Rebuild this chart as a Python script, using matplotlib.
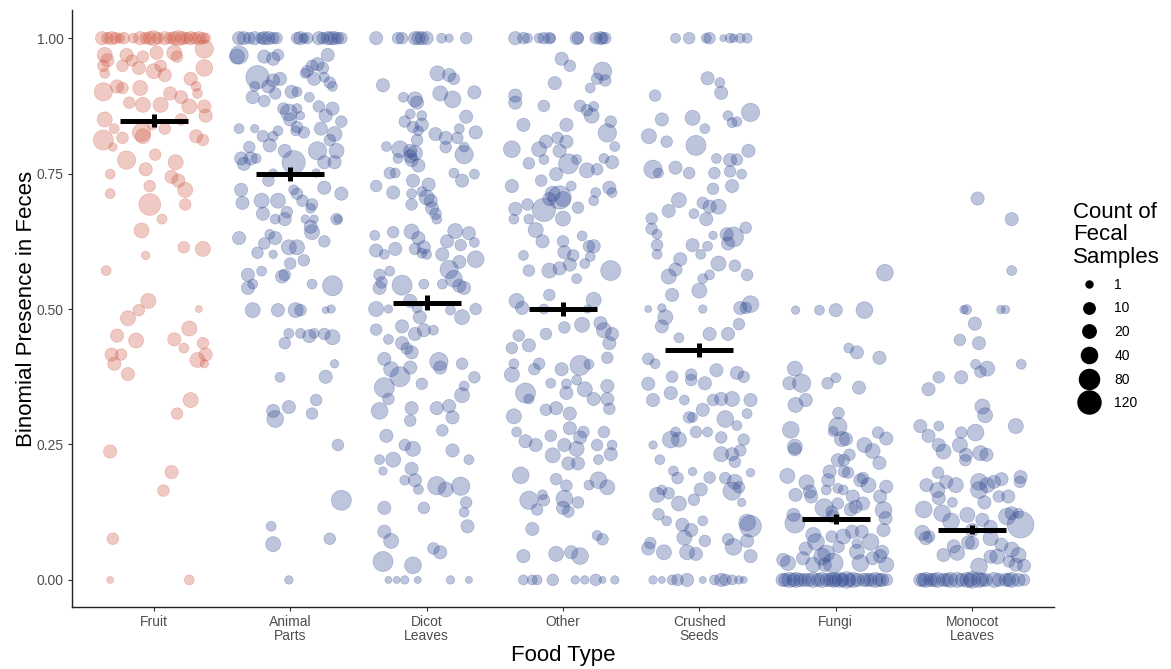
import numpy as np
import matplotlib
matplotlib.use("Agg")
import matplotlib.pyplot as plt
from matplotlib.lines import Line2D

plt.rcParams['font.family'] = ['Liberation Sans', 'DejaVu Sans']

# categories, means and standard errors
foods = ["Fruit", "Animal\nParts", "Dicot\nLeaves", "Other", "Crushed\nSeeds", "Fungi", "Monocot\nLeaves"]
means = [0.848, 0.750, 0.512, 0.500, 0.424, 0.113, 0.093]
ses = [0.012, 0.013, 0.014, 0.013, 0.013, 0.009, 0.008]

# points: (jitter offset, presence, count of fecal samples)
fruit = [
    (-0.38, 1, 19), (-0.34, 1, 11), (-0.31, 1, 19), (-0.28, 1, 11), (-0.25, 1, 5), (-0.22, 1, 11),
    (-0.15, 1, 5), (-0.10, 1, 19), (-0.06, 1, 11), (-0.03, 1, 19), (0.0, 1, 31), (0.03, 1, 11),
    (0.08, 1, 19), (0.12, 1, 11), (0.15, 1, 19), (0.18, 1, 31), (0.21, 1, 19), (0.24, 1, 11),
    (0.27, 1, 19), (0.30, 1, 11), (0.33, 1, 19), (0.36, 1, 11), (0.38, 1, 5),
    (-0.36, 0.969, 31), (-0.34, 0.959, 19), (-0.20, 0.969, 19), (-0.16, 0.959, 11), (-0.08, 0.966, 11),
    (0.02, 0.973, 19), (0.15, 0.973, 31), (0.17, 0.966, 11), (0.37, 0.98, 60), (-0.37, 0.949, 11),
    (-0.23, 0.949, 11), (-0.11, 0.945, 19), (0.0, 0.939, 31), (0.05, 0.949, 11), (0.08, 0.932, 19),
    (0.37, 0.945, 45), (-0.36, 0.935, 5), (-0.27, 0.911, 19), (-0.37, 0.901, 60), (-0.23, 0.908, 11),
    (-0.10, 0.908, 31), (-0.08, 0.877, 31), (-0.18, 0.881, 11), (0.05, 0.877, 31), (0.12, 0.898, 19),
    (0.20, 0.891, 19), (0.27, 0.925, 19), (0.31, 0.911, 5), (0.32, 0.898, 5), (0.26, 0.874, 31),
    (0.37, 0.874, 19), (0.38, 0.857, 19), (0.20, 0.85, 11), (0.08, 0.833, 11), (-0.36, 0.85, 31),
    (-0.29, 0.833, 5), (-0.37, 0.812, 79), (-0.30, 0.799, 2), (-0.23, 0.816, 11), (-0.09, 0.826, 60),
    (-0.08, 0.819, 31), (0.31, 0.819, 19), (0.36, 0.812, 11), (-0.01, 0.84, 5), (-0.20, 0.775, 60),
    (0.01, 0.785, 11), (-0.06, 0.758, 19), (0.16, 0.771, 31), (-0.32, 0.749, 5), (0.13, 0.744, 19),
    (0.18, 0.737, 19), (0.23, 0.72, 31), (-0.32, 0.713, 5), (-0.03, 0.727, 11), (-0.03, 0.693, 101),
    (0.23, 0.693, 11), (0.06, 0.666, 5), (-0.09, 0.645, 31), (0.22, 0.614, 11), (0.36, 0.611, 31),
    (-0.06, 0.599, 2), (-0.35, 0.571, 5), (-0.04, 0.515, 31), (-0.11, 0.498, 11), (-0.19, 0.483, 31),
    (-0.27, 0.451, 19), (-0.13, 0.442, 31), (0.15, 0.444, 19), (0.26, 0.464, 31), (0.22, 0.428, 5),
    (0.33, 0.50, 1), (0.36, 0.437, 11), (-0.31, 0.416, 19), (-0.24, 0.416, 11), (-0.29, 0.399, 19),
    (-0.19, 0.38, 19), (0.32, 0.406, 31), (0.38, 0.416, 19), (0.37, 0.399, 2), (0.27, 0.332, 31),
    (0.17, 0.307, 11), (-0.32, 0.237, 19), (0.13, 0.199, 19), (0.07, 0.165, 11), (-0.30, 0.076, 11),
    (-0.32, 0.0, 1), (0.26, 0.0, 5),
]

animal = [
    (-0.375, 1, 19), (-0.34, 1, 19), (-0.30, 1, 11), (-0.26, 1, 19), (-0.21, 1, 11), (-0.19, 1, 19),
    (-0.16, 1, 19), (-0.125, 1, 11), (-0.10, 1, 11), (0.05, 1, 11), (0.075, 1, 19), (0.10, 1, 5),
    (0.125, 1, 11), (0.21, 1, 19), (0.24, 1, 11), (0.275, 1, 19), (0.30, 1, 19), (0.325, 1, 19),
    (0.35, 1, 11), (0.375, 1, 11),
    (-0.375, 0.969, 60), (-0.39, 0.966, 31), (-0.19, 0.966, 19), (-0.125, 0.962, 19), (-0.09, 0.969, 11),
    (0.275, 0.969, 19), (0.125, 0.939, 11), (0.16, 0.949, 11), (0.20, 0.952, 19), (0.24, 0.945, 11),
    (-0.24, 0.928, 124), (-0.125, 0.922, 19), (-0.075, 0.925, 19), (-0.16, 0.911, 19), (-0.26, 0.911, 5),
    (-0.11, 0.898, 11), (-0.275, 0.891, 19), (-0.19, 0.884, 11), (0.01, 0.901, 19), (0.05, 0.901, 5),
    (0.14, 0.891, 5), (0.175, 0.925, 19), (0.25, 0.928, 5), (0.29, 0.918, 11), (0.31, 0.911, 5),
    (0.11, 0.935, 5), (-0.05, 0.870, 11), (-0.01, 0.863, 45), (0.05, 0.870, 5), (0.075, 0.857, 2),
    (0.0, 0.85, 19), (0.05, 0.836, 11), (0.10, 0.826, 11), (0.04, 0.829, 5), (0.21, 0.874, 11),
    (0.31, 0.870, 19), (0.26, 0.857, 19), (0.375, 0.846, 11), (0.225, 0.833, 19), (0.325, 0.823, 31),
    (0.29, 0.812, 11), (-0.375, 0.833, 5), (-0.26, 0.833, 2), (-0.20, 0.819, 11), (-0.125, 0.819, 5),
    (-0.15, 0.802, 19), (-0.09, 0.829, 5), (-0.04, 0.792, 19), (-0.30, 0.799, 11), (-0.36, 0.778, 19),
    (-0.29, 0.778, 19), (-0.34, 0.768, 19), (-0.25, 0.778, 5), (0.025, 0.771, 124), (0.20, 0.792, 60),
    (0.34, 0.792, 31), (0.25, 0.771, 19), (0.325, 0.771, 19), (-0.16, 0.737, 11), (-0.125, 0.751, 2),
    (0.19, 0.751, 2), (-0.36, 0.72, 19), (-0.35, 0.696, 19), (-0.21, 0.70, 31), (-0.09, 0.70, 31),
    (-0.20, 0.676, 19), (-0.11, 0.666, 5), (-0.04, 0.666, 19), (-0.025, 0.679, 11), (0.05, 0.713, 11),
    (0.025, 0.72, 5), (0.09, 0.70, 11), (0.16, 0.693, 11), (0.15, 0.686, 5), (0.25, 0.724, 19),
    (0.375, 0.713, 19), (0.11, 0.666, 2), (0.175, 0.666, 2), (0.15, 0.652, 19), (0.16, 0.642, 31),
    (0.34, 0.666, 11), (0.35, 0.666, 2), (-0.375, 0.631, 19), (-0.24, 0.604, 11), (-0.15, 0.638, 5),
    (-0.11, 0.631, 19), (-0.19, 0.621, 11), (-0.125, 0.601, 2), (-0.01, 0.614, 31), (0.05, 0.614, 31),
    (0.10, 0.59, 11), (0.0, 0.584, 11), (0.25, 0.625, 11), (-0.31, 0.563, 19), (-0.21, 0.57, 5),
    (-0.06, 0.56, 19), (-0.04, 0.563, 11), (-0.31, 0.539, 19), (-0.275, 0.546, 5), (0.16, 0.546, 5),
    (0.31, 0.543, 79), (-0.275, 0.498, 31), (-0.09, 0.498, 19), (0.04, 0.498, 31), (0.075, 0.498, 11),
    (0.26, 0.498, 1), (0.30, 0.50, 2), (-0.01, 0.455, 5), (0.075, 0.455, 5), (0.14, 0.45, 19),
    (0.175, 0.455, 5), (0.25, 0.454, 11), (0.31, 0.448, 31), (-0.04, 0.437, 11), (0.325, 0.399, 2),
    (0.26, 0.375, 19), (-0.075, 0.374, 5), (0.19, 0.332, 11), (0.16, 0.307, 11), (-0.01, 0.319, 19),
    (-0.125, 0.312, 19), (-0.11, 0.297, 45), (0.35, 0.249, 11), (0.375, 0.147, 79), (-0.14, 0.099, 5),
    (-0.125, 0.066, 31), (0.29, 0.076, 11), (-0.01, 0.0, 2),
]

dicot = [
    (-0.37, 1, 19), (-0.21, 1, 11), (-0.18, 1, 11), (-0.085, 1, 19), (-0.06, 1, 19), (-0.035, 1, 19),
    (0.0, 1, 19), (0.11, 1, 5), (0.165, 1, 2), (0.29, 1, 11),
    (-0.32, 0.913, 19), (0.08, 0.935, 31), (0.165, 0.932, 19), (0.20, 0.925, 11), (-0.17, 0.891, 5),
    (-0.085, 0.887, 31), (-0.07, 0.881, 19), (0.10, 0.898, 31), (0.19, 0.887, 45), (0.35, 0.90, 19),
    (-0.12, 0.86, 5), (-0.16, 0.846, 11), (-0.035, 0.857, 5), (-0.10, 0.836, 11), (-0.035, 0.84, 19),
    (-0.06, 0.829, 5), (-0.07, 0.812, 11), (0.065, 0.823, 19), (0.14, 0.816, 19), (0.24, 0.833, 5),
    (0.29, 0.855, 19), (0.36, 0.826, 19), (0.225, 0.816, 11), (-0.295, 0.80, 5), (-0.195, 0.795, 45),
    (-0.12, 0.792, 19), (-0.12, 0.782, 19), (-0.085, 0.788, 31), (0.14, 0.799, 11), (0.275, 0.799, 5),
    (0.275, 0.785, 60), (-0.21, 0.778, 5), (-0.11, 0.775, 19), (-0.06, 0.765, 19), (-0.27, 0.751, 11),
    (-0.23, 0.751, 5), (0.20, 0.751, 5), (0.26, 0.737, 19), (0.35, 0.749, 5), (-0.37, 0.727, 11),
    (-0.10, 0.737, 19), (0.015, 0.73, 19), (-0.245, 0.715, 19), (-0.11, 0.713, 5), (-0.035, 0.717, 5),
    (0.0, 0.706, 31), (-0.11, 0.693, 11), (0.03, 0.70, 19), (0.04, 0.686, 19), (0.065, 0.676, 11),
    (0.075, 0.666, 5), (-0.38, 0.636, 5), (-0.245, 0.642, 11), (-0.11, 0.643, 31), (-0.06, 0.631, 19),
    (-0.02, 0.614, 19), (-0.37, 0.608, 19), (-0.31, 0.601, 5), (-0.23, 0.611, 19), (-0.085, 0.611, 11),
    (-0.035, 0.603, 5), (0.0, 0.601, 5), (0.15, 0.625, 19), (0.21, 0.644, 31), (0.31, 0.64, 19),
    (0.25, 0.618, 11), (0.35, 0.623, 5), (0.36, 0.592, 45), (0.115, 0.601, 19), (0.165, 0.573, 60),
    (0.24, 0.587, 19), (-0.345, 0.563, 11), (-0.27, 0.57, 5), (-0.33, 0.549, 11), (-0.18, 0.544, 79),
    (-0.02, 0.546, 5), (0.115, 0.546, 5), (0.20, 0.556, 45), (0.24, 0.543, 19), (0.275, 0.539, 19),
    (-0.345, 0.539, 19), (-0.37, 0.50, 31), (-0.28, 0.50, 2), (-0.12, 0.515, 19), (-0.07, 0.502, 5),
    (-0.05, 0.485, 19), (0.175, 0.498, 5), (0.26, 0.485, 31), (0.36, 0.50, 11), (-0.37, 0.462, 11),
    (-0.28, 0.444, 5), (-0.18, 0.468, 19), (-0.18, 0.437, 19), (-0.085, 0.454, 19), (-0.02, 0.461, 19),
    (0.05, 0.461, 5), (-0.145, 0.427, 11), (-0.11, 0.42, 19), (-0.31, 0.408, 19), (-0.26, 0.389, 31),
    (-0.195, 0.375, 79), (-0.12, 0.392, 19), (0.09, 0.403, 60), (0.10, 0.392, 19), (0.26, 0.399, 11),
    (0.35, 0.374, 11), (-0.31, 0.355, 79), (-0.28, 0.334, 11), (-0.345, 0.312, 45), (-0.11, 0.317, 19),
    (-0.12, 0.294, 11), (-0.035, 0.362, 11), (0.075, 0.317, 19), (0.165, 0.321, 19), (0.19, 0.30, 19),
    (0.115, 0.276, 11), (0.275, 0.358, 5), (0.26, 0.341, 31), (-0.295, 0.266, 19), (-0.345, 0.222, 5),
    (-0.245, 0.222, 31), (-0.32, 0.201, 2), (-0.16, 0.249, 11), (-0.10, 0.242, 31), (-0.11, 0.205, 19),
    (-0.16, 0.184, 5), (-0.085, 0.184, 19), (-0.06, 0.167, 5), (0.075, 0.174, 60), (0.14, 0.167, 31),
    (0.25, 0.173, 60), (0.29, 0.143, 11), (0.275, 0.125, 5), (0.19, 0.239, 19), (0.31, 0.222, 5),
    (-0.02, 0.133, 11), (0.30, 0.099, 19), (-0.31, 0.133, 19), (-0.31, 0.089, 19), (-0.26, 0.072, 31),
    (0.05, 0.058, 11), (0.10, 0.051, 19), (-0.32, 0.034, 79), (-0.10, 0.027, 45),
    (-0.28, 0.0, 1), (-0.22, 0.0, 1), (-0.16, 0.0, 2), (-0.065, 0.0, 1), (0.175, 0.0, 2), (0.31, 0.0, 1),
]

other = [
    (-0.35, 1, 19), (-0.29, 1, 11), (-0.26, 1, 5), (-0.175, 1, 5), (-0.14, 1, 11), (-0.10, 1, 11),
    (-0.09, 1, 5), (0.10, 1, 19), (0.11, 1, 11), (0.24, 1, 11), (0.275, 1, 19), (0.29, 1, 11), (0.31, 1, 11),
    (-0.01, 0.962, 19), (0.05, 0.949, 11), (-0.06, 0.917, 19), (0.29, 0.939, 60), (0.25, 0.925, 11),
    (0.31, 0.922, 11), (0.20, 0.908, 5), (-0.35, 0.894, 19), (-0.35, 0.881, 19), (-0.14, 0.875, 11),
    (0.125, 0.875, 11), (0.175, 0.867, 11), (0.21, 0.857, 31), (0.225, 0.874, 5), (0.35, 0.846, 11),
    (0.325, 0.825, 60), (0.38, 0.80, 5), (-0.29, 0.84, 19), (0.025, 0.84, 19), (-0.375, 0.795, 45),
    (-0.175, 0.795, 31), (-0.125, 0.809, 19), (-0.04, 0.816, 11), (0.025, 0.809, 19), (-0.025, 0.792, 19),
    (-0.25, 0.769, 11), (-0.14, 0.776, 5), (0.04, 0.768, 79), (0.10, 0.776, 5), (0.175, 0.756, 31),
    (0.25, 0.758, 11), (0.30, 0.778, 5), (0.36, 0.771, 19), (-0.375, 0.727, 19), (-0.16, 0.737, 11),
    (-0.05, 0.749, 19), (0.06, 0.727, 5), (-0.075, 0.713, 31), (-0.025, 0.706, 124), (0.0, 0.703, 31),
    (-0.14, 0.683, 124), (-0.10, 0.703, 19), (0.11, 0.687, 11), (0.24, 0.715, 5), (0.225, 0.70, 5),
    (0.34, 0.724, 19), (0.36, 0.715, 5), (-0.35, 0.685, 19), (-0.36, 0.666, 5), (-0.26, 0.693, 11),
    (-0.25, 0.666, 5), (-0.20, 0.646, 31), (-0.15, 0.625, 19), (0.0, 0.667, 31), (0.0, 0.625, 11),
    (0.01, 0.605, 19), (0.075, 0.599, 11), (0.14, 0.635, 5), (0.19, 0.616, 11), (0.225, 0.616, 19),
    (0.20, 0.597, 5), (0.16, 0.584, 5), (0.05, 0.582, 19), (-0.025, 0.575, 19), (-0.10, 0.571, 31),
    (-0.25, 0.571, 11), (-0.29, 0.599, 5), (0.35, 0.571, 79), (0.10, 0.556, 5), (-0.34, 0.515, 31),
    (-0.30, 0.502, 19), (-0.14, 0.50, 5), (-0.10, 0.526, 11), (0.225, 0.517, 31), (0.18, 0.50, 2),
    (0.01, 0.466, 11), (0.14, 0.471, 31), (0.275, 0.474, 19), (-0.325, 0.451, 11), (-0.375, 0.428, 11),
    (-0.25, 0.433, 19), (-0.125, 0.454, 11), (0.30, 0.461, 31), (0.36, 0.454, 19), (0.34, 0.437, 19),
    (-0.36, 0.399, 5), (-0.375, 0.379, 31), (-0.175, 0.399, 11), (-0.21, 0.389, 11), (-0.01, 0.389, 19),
    (0.125, 0.396, 79), (0.19, 0.398, 5), (0.325, 0.41, 11), (-0.09, 0.363, 5), (0.025, 0.362, 5),
    (0.10, 0.369, 5), (0.16, 0.352, 31), (0.325, 0.358, 19), (-0.275, 0.345, 79), (-0.25, 0.334, 5),
    (0.025, 0.345, 19), (0.225, 0.334, 19), (0.325, 0.334, 19), (-0.36, 0.302, 31), (-0.125, 0.314, 11),
    (-0.05, 0.317, 19), (0.05, 0.307, 19), (0.34, 0.316, 11), (-0.34, 0.273, 5), (-0.275, 0.256, 19),
    (-0.20, 0.249, 19), (-0.09, 0.266, 11), (-0.075, 0.23, 31), (0.01, 0.249, 19), (0.05, 0.28, 19),
    (0.10, 0.242, 31), (0.125, 0.263, 19), (0.15, 0.273, 11), (0.25, 0.249, 11), (0.30, 0.273, 11),
    (0.36, 0.249, 5), (0.35, 0.232, 19), (0.26, 0.222, 5), (0.04, 0.215, 19), (0.11, 0.215, 19),
    (-0.31, 0.193, 45), (-0.05, 0.186, 11), (0.025, 0.174, 11), (0.01, 0.15, 45), (0.04, 0.126, 11),
    (0.11, 0.143, 11), (0.19, 0.175, 5), (0.26, 0.184, 45), (0.325, 0.171, 31), (-0.25, 0.147, 60),
    (-0.15, 0.157, 5), (-0.14, 0.147, 11), (-0.19, 0.13, 11), (0.0, 0.133, 19), (-0.225, 0.094, 19),
    (0.25, 0.082, 5), (0.29, 0.075, 11), (-0.29, 0.044, 19), (-0.05, 0.048, 31), (0.06, 0.051, 19),
    (0.125, 0.044, 45),
    (-0.29, 0.0, 5), (-0.225, 0.0, 5), (-0.19, 0.0, 5), (-0.075, 0.0, 11), (0.09, 0.0, 2), (0.16, 0.0, 2),
    (0.24, 0.0, 11), (0.29, 0.0, 1), (0.38, 0.0, 2),
]

crushed = [
    (-0.175, 1, 5), (-0.075, 1, 11), (0.05, 1, 5), (0.075, 1, 11), (0.175, 1, 1), (0.225, 1, 5),
    (0.25, 1, 2), (0.30, 1, 5), (0.35, 1, 5),
    (0.06, 0.926, 19), (0.15, 0.918, 5), (0.16, 0.899, 19), (-0.325, 0.894, 11), (-0.275, 0.85, 19),
    (-0.05, 0.853, 31), (0.04, 0.833, 5), (0.21, 0.857, 5), (0.24, 0.844, 5), (0.275, 0.846, 5),
    (0.375, 0.863, 60), (-0.37, 0.819, 31), (-0.24, 0.809, 11), (-0.025, 0.802, 79), (0.125, 0.778, 5),
    (0.225, 0.775, 19), (0.275, 0.776, 11), (0.36, 0.792, 19), (-0.34, 0.758, 60), (-0.30, 0.751, 5),
    (-0.175, 0.761, 19), (-0.075, 0.751, 11), (0.11, 0.751, 11), (0.225, 0.754, 11), (0.31, 0.749, 5),
    (0.24, 0.727, 19), (0.10, 0.722, 11), (-0.15, 0.701, 31), (-0.225, 0.681, 19), (0.025, 0.696, 11),
    (0.075, 0.689, 19), (0.14, 0.689, 31), (-0.04, 0.676, 5), (0.05, 0.666, 19), (-0.35, 0.667, 11),
    (-0.35, 0.648, 11), (-0.31, 0.638, 5), (-0.31, 0.618, 11), (-0.31, 0.601, 5), (-0.05, 0.618, 19),
    (0.01, 0.601, 5), (0.06, 0.616, 5), (0.10, 0.636, 2), (0.20, 0.638, 19), (0.21, 0.621, 19),
    (0.25, 0.633, 79), (0.34, 0.65, 11), (0.14, 0.584, 31), (-0.14, 0.592, 19), (-0.175, 0.573, 19),
    (-0.225, 0.56, 31), (0.075, 0.563, 5), (0.025, 0.556, 5), (0.0, 0.534, 31), (-0.20, 0.526, 19),
    (0.26, 0.58, 11), (0.35, 0.563, 11), (-0.375, 0.50, 1), (-0.275, 0.502, 2), (-0.25, 0.485, 31),
    (-0.275, 0.468, 19), (0.025, 0.50, 2), (0.075, 0.454, 19), (0.21, 0.454, 19), (0.29, 0.472, 11),
    (0.30, 0.502, 19), (0.34, 0.502, 11), (0.375, 0.509, 45), (-0.15, 0.447, 5), (-0.375, 0.408, 11),
    (-0.325, 0.399, 5), (-0.20, 0.375, 11), (-0.06, 0.379, 11), (-0.06, 0.369, 11), (0.04, 0.363, 19),
    (0.125, 0.387, 19), (0.275, 0.382, 19), (0.325, 0.375, 11), (-0.375, 0.362, 19), (-0.34, 0.332, 19),
    (-0.21, 0.345, 19), (-0.11, 0.332, 5), (0.10, 0.332, 11), (0.16, 0.334, 19), (0.24, 0.334, 31),
    (0.375, 0.332, 19), (0.35, 0.307, 5), (-0.075, 0.30, 11), (-0.05, 0.30, 5), (0.025, 0.314, 19),
    (0.19, 0.297, 45), (0.275, 0.285, 5), (-0.21, 0.259, 45), (-0.15, 0.259, 31), (-0.175, 0.273, 5),
    (-0.025, 0.273, 11), (0.06, 0.273, 5), (0.16, 0.263, 11), (0.16, 0.232, 31), (0.24, 0.232, 19),
    (0.26, 0.218, 11), (0.30, 0.239, 11), (0.325, 0.259, 11), (-0.34, 0.249, 2), (-0.29, 0.222, 5),
    (-0.19, 0.201, 5), (-0.16, 0.188, 11), (-0.05, 0.20, 2), (0.075, 0.189, 11), (0.19, 0.188, 11),
    (0.26, 0.181, 31), (0.29, 0.171, 11), (0.375, 0.198, 2), (-0.31, 0.157, 31), (-0.275, 0.166, 5),
    (-0.225, 0.16, 11), (-0.15, 0.141, 31), (-0.04, 0.148, 11), (0.01, 0.167, 19), (0.24, 0.164, 60),
    (0.31, 0.143, 2), (-0.30, 0.121, 11), (-0.24, 0.109, 5), (-0.125, 0.102, 19), (-0.11, 0.078, 31),
    (-0.06, 0.092, 19), (0.025, 0.109, 5), (0.04, 0.072, 11), (-0.09, 0.051, 31), (-0.025, 0.048, 19),
    (0.21, 0.075, 11), (0.25, 0.061, 45), (0.35, 0.072, 19), (0.375, 0.044, 19), (0.375, 0.099, 101),
    (0.35, 0.106, 45), (-0.375, 0.058, 19), (-0.36, 0.068, 11), (-0.26, 0.051, 31),
    (-0.34, 0.0, 2), (-0.275, 0.0, 1), (-0.20, 0.0, 5), (-0.16, 0.0, 11), (-0.09, 0.0, 19), (0.025, 0.0, 1),
    (0.11, 0.0, 5), (0.16, 0.0, 19), (0.19, 0.0, 11), (0.24, 0.0, 5), (0.29, 0.0, 2), (0.325, 0.0, 1),
]

fungi = [
    (0.36, 0.567, 45), (-0.295, 0.498, 2), (-0.12, 0.498, 5), (0.0, 0.498, 19), (0.21, 0.498, 45),
    (0.095, 0.428, 5), (0.155, 0.42, 19), (0.32, 0.41, 19), (-0.30, 0.39, 31), (-0.34, 0.363, 19),
    (-0.25, 0.363, 60), (-0.06, 0.363, 11), (0.0, 0.373, 5), (0.17, 0.355, 19), (-0.295, 0.323, 31),
    (-0.22, 0.332, 19), (0.02, 0.308, 11), (-0.33, 0.277, 45), (0.015, 0.283, 60), (-0.02, 0.274, 5),
    (0.31, 0.272, 11), (0.37, 0.261, 19), (0.045, 0.26, 31), (0.075, 0.26, 19), (-0.30, 0.246, 31),
    (-0.30, 0.241, 19), (0.21, 0.249, 31), (0.27, 0.238, 31), (0.32, 0.216, 19), (0.015, 0.221, 19),
    (0.06, 0.221, 11), (0.10, 0.231, 11), (-0.355, 0.192, 31), (-0.045, 0.2, 19), (-0.215, 0.18, 31),
    (-0.055, 0.184, 19), (0.06, 0.2, 11), (0.09, 0.198, 11), (0.18, 0.184, 19), (0.24, 0.175, 31),
    (0.20, 0.188, 11), (-0.295, 0.157, 19), (-0.19, 0.163, 19), (-0.18, 0.154, 19), (-0.07, 0.166, 5),
    (0.015, 0.169, 5), (0.055, 0.166, 5), (0.125, 0.154, 19), (0.37, 0.172, 19), (0.325, 0.154, 19),
    (-0.085, 0.133, 60), (-0.03, 0.126, 11), (0.015, 0.141, 11), (0.11, 0.13, 19), (0.145, 0.135, 19),
    (0.20, 0.141, 19), (-0.31, 0.12, 19), (-0.30, 0.105, 79), (-0.02, 0.117, 19), (0.35, 0.129, 45),
    (0.365, 0.114, 19), (0.35, 0.092, 19), (0.19, 0.089, 19), (0.12, 0.089, 19), (-0.165, 0.083, 31),
    (-0.145, 0.07, 45), (-0.03, 0.08, 11), (0.02, 0.061, 11), (-0.22, 0.058, 19), (-0.07, 0.049, 45),
    (-0.10, 0.043, 45), (-0.02, 0.031, 79), (0.055, 0.08, 31), (0.155, 0.052, 31), (0.18, 0.031, 45),
    (0.255, 0.07, 45), (0.34, 0.052, 19), (0.37, 0.028, 31), (-0.35, 0.031, 31), (-0.385, 0.037, 19),
    (-0.24, 0.04, 19), (-0.165, 0.028, 31), (-0.08, 0.028, 19), (0.155, 0.067, 5), (0.27, 0.04, 19),
    (0.325, 0.044, 19),
    (-0.39, 0.0, 19), (-0.37, 0.0, 19), (-0.34, 0.0, 31), (-0.31, 0.0, 19), (-0.29, 0.0, 31),
    (-0.26, 0.0, 19), (-0.23, 0.0, 19), (-0.20, 0.0, 19), (-0.165, 0.0, 31), (-0.13, 0.0, 19),
    (-0.10, 0.0, 31), (-0.065, 0.0, 19), (-0.04, 0.0, 19), (-0.015, 0.0, 31), (0.0, 0.0, 19),
    (0.03, 0.0, 31), (0.05, 0.0, 19), (0.08, 0.0, 45), (0.10, 0.0, 19), (0.13, 0.0, 31), (0.16, 0.0, 19),
    (0.205, 0.0, 19), (0.23, 0.0, 19), (0.255, 0.0, 19), (0.29, 0.0, 31), (0.32, 0.0, 19), (0.34, 0.0, 19),
    (0.375, 0.0, 11),
]

monocot = [
    (0.04, 0.704, 19), (0.29, 0.666, 19), (0.29, 0.571, 5), (-0.06, 0.499, 2), (-0.04, 0.499, 5),
    (0.21, 0.499, 2), (0.245, 0.499, 2), (0.02, 0.473, 19), (-0.09, 0.443, 11), (0.05, 0.437, 19),
    (0.025, 0.398, 5), (0.11, 0.39, 31), (0.06, 0.384, 11), (0.36, 0.398, 5), (-0.245, 0.374, 11),
    (-0.08, 0.374, 19), (-0.32, 0.352, 19), (0.075, 0.32, 31), (0.095, 0.304, 31), (-0.38, 0.284, 19),
    (-0.245, 0.284, 5), (-0.08, 0.272, 11), (0.025, 0.272, 45), (0.32, 0.284, 31), (-0.32, 0.266, 19),
    (-0.245, 0.249, 19), (-0.09, 0.249, 31), (-0.21, 0.237, 31), (-0.045, 0.231, 19), (-0.05, 0.221, 11),
    (0.06, 0.234, 31), (0.105, 0.231, 19), (-0.25, 0.198, 11), (-0.335, 0.175, 19), (-0.19, 0.181, 19),
    (-0.12, 0.175, 31), (-0.255, 0.166, 31), (-0.245, 0.151, 19), (-0.145, 0.143, 5), (0.05, 0.181, 45),
    (0.05, 0.166, 45), (0.11, 0.175, 31), (0.16, 0.181, 19), (0.215, 0.186, 19), (0.355, 0.19, 19),
    (0.35, 0.181, 11), (0.195, 0.154, 11), (0.265, 0.154, 19), (0.09, 0.143, 19), (-0.355, 0.13, 45),
    (-0.22, 0.123, 45), (-0.155, 0.108, 45), (-0.035, 0.12, 31), (0.075, 0.111, 19), (0.29, 0.123, 19),
    (0.255, 0.117, 45), (0.34, 0.123, 5), (0.355, 0.102, 180), (0.135, 0.098, 19), (0.0, 0.092, 19),
    (-0.365, 0.087, 31), (-0.315, 0.08, 11), (-0.34, 0.077, 19), (0.135, 0.077, 31), (-0.03, 0.069, 19),
    (0.0, 0.068, 19), (-0.135, 0.062, 19), (-0.11, 0.05, 31), (-0.21, 0.046, 19), (0.05, 0.025, 45),
    (0.135, 0.043, 19), (0.185, 0.043, 31), (0.215, 0.065, 19), (0.29, 0.056, 31), (0.27, 0.034, 11),
    (0.32, 0.028, 19), (0.38, 0.026, 19), (0.34, 0.046, 31),
    (-0.38, 0.0, 19), (-0.36, 0.0, 19), (-0.34, 0.0, 31), (-0.305, 0.0, 19), (-0.28, 0.0, 19),
    (-0.255, 0.0, 31), (-0.21, 0.0, 19), (-0.185, 0.0, 19), (-0.16, 0.0, 31), (-0.11, 0.0, 31),
    (-0.075, 0.0, 19), (-0.035, 0.0, 31), (-0.01, 0.0, 19), (0.0, 0.0, 45), (0.05, 0.0, 31),
    (0.075, 0.0, 19), (0.10, 0.0, 19), (0.16, 0.0, 31), (0.195, 0.0, 19), (0.245, 0.0, 19),
    (0.27, 0.0, 19), (0.29, 0.0, 31), (0.34, 0.0, 19), (0.38, 0.0, 11),
]

groups = [fruit, animal, dicot, other, crushed, fungi, monocot]
colors = ["#CD4F39", "#27408B", "#27408B", "#27408B", "#27408B", "#27408B", "#27408B"]

legend_counts = [1, 10, 20, 40, 80, 120]


def marker_area(n):
    # sqrt-area size scale like ggplot's scale_size
    d_px = 7 + 1.47 * np.sqrt(np.asarray(n, dtype=float) - 1)
    return (d_px * 0.72) ** 2


fig = plt.figure(figsize=(11.71, 6.69), dpi=100)
ax = fig.add_axes([72 / 1171, 1 - 607 / 669, (1054 - 72) / 1171, (607 - 10) / 669])

for i, pts in enumerate(groups):
    arr = np.array(pts)
    ax.scatter(i + 1 + arr[:, 0], arr[:, 1], s=marker_area(arr[:, 2]),
               color=colors[i], alpha=0.3, linewidths=0.5, zorder=2)

for i, (m, se) in enumerate(zip(means, ses)):
    ax.plot([i + 1 - 0.25, i + 1 + 0.25], [m, m], color="black", lw=3.6,
            solid_capstyle="butt", zorder=4)
    ax.plot([i + 1, i + 1], [m - se, m + se], color="black", lw=3.6,
            solid_capstyle="butt", zorder=4)

ax.set_xlim(0.4, 7.6)
ax.set_ylim(-0.05, 1.052)
ax.set_xticks(range(1, 8))
ax.set_xticklabels(foods, fontsize=10, color="#4D4D4D", linespacing=1.0)
ax.set_yticks([0, 0.25, 0.5, 0.75, 1.0])
ax.set_yticklabels(["0.00", "0.25", "0.50", "0.75", "1.00"], fontsize=10, color="#4D4D4D")
ax.tick_params(length=3, width=0.8, color="#333333", pad=3)
for side in ["top", "right"]:
    ax.spines[side].set_visible(False)
for side in ["left", "bottom"]:
    ax.spines[side].set_linewidth(1.0)
    ax.spines[side].set_color("#222222")

ax.set_xlabel("Food Type", fontsize=16, labelpad=1)
ax.set_ylabel("Binomial Presence in Feces", fontsize=16, labelpad=0)

handles = [Line2D([], [], linestyle="none", marker="o", color="black",
                  markersize=np.sqrt(marker_area(c))) for c in legend_counts]
leg = fig.legend(handles, [str(c) for c in legend_counts], title="Count of\nFecal\nSamples",
                 loc="upper left", bbox_to_anchor=(1070 / 1171, 1 - 199 / 669),
                 frameon=False, fontsize=10, title_fontsize=16, alignment="left",
                 labelspacing=0.7, handlelength=2.4, handletextpad=0.6, borderaxespad=0,
                 borderpad=0.2)
leg.get_title().set_linespacing(1.1)

fig.savefig("out.png", dpi=100)
